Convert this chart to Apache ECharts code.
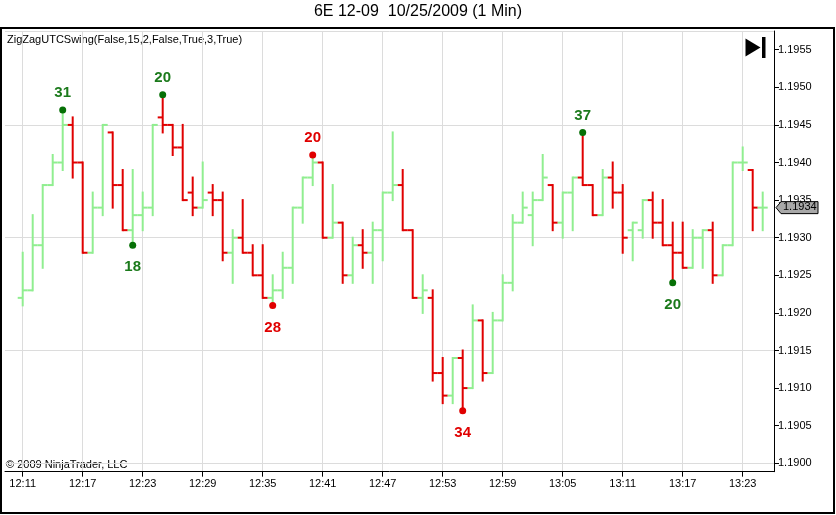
<!DOCTYPE html>
<html>
<head>
<meta charset="utf-8">
<title>6E 12-09 10/25/2009 (1 Min)</title>
<script src="https://cdn.jsdelivr.net/npm/echarts@6.0.0/dist/echarts.min.js"></script>
<style>
    html, body { margin: 0; padding: 0; background: #fff; }
    #main { width: 836px; height: 515px; }
</style>
</head>
<body>
<div id="main"></div>
<script>
// 1 minute bars, 12:11 - 13:25
const times = [
    '12:11', '12:12', '12:13', '12:14', '12:15', '12:16', '12:17', '12:18', '12:19', '12:20',
    '12:21', '12:22', '12:23', '12:24', '12:25', '12:26', '12:27', '12:28', '12:29', '12:30',
    '12:31', '12:32', '12:33', '12:34', '12:35', '12:36', '12:37', '12:38', '12:39', '12:40',
    '12:41', '12:42', '12:43', '12:44', '12:45', '12:46', '12:47', '12:48', '12:49', '12:50',
    '12:51', '12:52', '12:53', '12:54', '12:55', '12:56', '12:57', '12:58', '12:59', '13:00',
    '13:01', '13:02', '13:03', '13:04', '13:05', '13:06', '13:07', '13:08', '13:09', '13:10',
    '13:11', '13:12', '13:13', '13:14', '13:15', '13:16', '13:17', '13:18', '13:19', '13:20',
    '13:21', '13:22', '13:23', '13:24', '13:25'
];

const opens = [
    1.1922, 1.1923, 1.1929, 1.1937, 1.1940, 1.1945, 1.1940, 1.1928, 1.1934, 1.1944,
    1.1937, 1.1931, 1.1933, 1.1934, 1.1946, 1.1945, 1.1942, 1.1936, 1.1934, 1.1936,
    1.1935, 1.1928, 1.1930, 1.1928, 1.1925, 1.1922, 1.1923, 1.1926, 1.1934, 1.1938,
    1.1940, 1.1930, 1.1932, 1.1925, 1.1929, 1.1928, 1.1931, 1.1936, 1.1937, 1.1931,
    1.1922, 1.1922, 1.1912, 1.1909, 1.1914, 1.1910, 1.1919, 1.1912, 1.1919, 1.1924,
    1.1932, 1.1933, 1.1935, 1.1937, 1.1932, 1.1936, 1.1938, 1.1937, 1.1933, 1.1938,
    1.1936, 1.1931, 1.1931, 1.1935, 1.1932, 1.1929, 1.1928, 1.1926, 1.1930, 1.1931,
    1.1925, 1.1929, 1.1940, 1.1939, 1.1934
];
const highs = [
    1.1928, 1.1933, 1.1937, 1.1941, 1.1947, 1.1946, 1.1940, 1.1936, 1.1945, 1.1944,
    1.1939, 1.1939, 1.1936, 1.1945, 1.1949, 1.1945, 1.1945, 1.1938, 1.1940, 1.1937,
    1.1936, 1.1931, 1.1935, 1.1929, 1.1929, 1.1925, 1.1928, 1.1934, 1.1938, 1.1941,
    1.1940, 1.1937, 1.1932, 1.1930, 1.1931, 1.1932, 1.1936, 1.1944, 1.1939, 1.1931,
    1.1925, 1.1923, 1.1914, 1.1914, 1.1915, 1.1921, 1.1919, 1.1920, 1.1925, 1.1933,
    1.1936, 1.1936, 1.1941, 1.1937, 1.1936, 1.1938, 1.1944, 1.1937, 1.1939, 1.1940,
    1.1937, 1.1932, 1.1935, 1.1936, 1.1935, 1.1932, 1.1932, 1.1931, 1.1931, 1.1932,
    1.1929, 1.1940, 1.1942, 1.1939, 1.1936
];
const lows = [
    1.1921, 1.1923, 1.1926, 1.1937, 1.1939, 1.1938, 1.1928, 1.1928, 1.1933, 1.1934,
    1.1931, 1.1929, 1.1931, 1.1933, 1.1944, 1.1941, 1.1935, 1.1933, 1.1934, 1.1933,
    1.1927, 1.1924, 1.1928, 1.1925, 1.1922, 1.1921, 1.1922, 1.1924, 1.1932, 1.1937,
    1.1930, 1.1930, 1.1924, 1.1924, 1.1926, 1.1924, 1.1927, 1.1935, 1.1931, 1.1922,
    1.1920, 1.1911, 1.1908, 1.1908, 1.1907, 1.1910, 1.1911, 1.1912, 1.1919, 1.1923,
    1.1932, 1.1929, 1.1935, 1.1931, 1.1930, 1.1931, 1.1937, 1.1933, 1.1933, 1.1934,
    1.1928, 1.1927, 1.1930, 1.1930, 1.1929, 1.1924, 1.1926, 1.1926, 1.1926, 1.1924,
    1.1925, 1.1929, 1.1939, 1.1931, 1.1931
];
const closes = [
    1.1923, 1.1929, 1.1937, 1.1940, 1.1945, 1.1940, 1.1928, 1.1934, 1.1945, 1.1937,
    1.1931, 1.1933, 1.1934, 1.1945, 1.1945, 1.1942, 1.1935, 1.1934, 1.1935, 1.1935,
    1.1928, 1.1930, 1.1928, 1.1925, 1.1922, 1.1923, 1.1926, 1.1934, 1.1938, 1.1940,
    1.1930, 1.1932, 1.1925, 1.1929, 1.1928, 1.1931, 1.1936, 1.1937, 1.1931, 1.1922,
    1.1923, 1.1912, 1.1909, 1.1914, 1.1910, 1.1919, 1.1912, 1.1919, 1.1924, 1.1932,
    1.1934, 1.1935, 1.1938, 1.1932, 1.1936, 1.1938, 1.1937, 1.1933, 1.1938, 1.1936,
    1.1930, 1.1932, 1.1935, 1.1932, 1.1929, 1.1928, 1.1926, 1.1930, 1.1931, 1.1925,
    1.1929, 1.1940, 1.1940, 1.1934, 1.1934
];

// zigzag swing points: bar index, swing count, high/low, trend colour
const swingBars = [4, 11, 14, 25, 29, 44, 56, 65];
const swingCounts = ['31', '18', '20', '28', '20', '34', '37', '20'];
const swingSides = ['high', 'low', 'high', 'low', 'high', 'low', 'high', 'low'];
const swingTrend = ['up', 'up', 'up', 'down', 'down', 'down', 'up', 'up'];

const upColor = '#90ee90';
const downColor = '#e00000';
const fontFamily = 'Arial, "Liberation Sans", sans-serif';

const chart = echarts.init(document.getElementById('main'), null, { renderer: 'canvas' });

function renderBar(params, api) {
    const i = api.value(0);
    const o = api.value(1);
    const c = api.value(4);
    const top = api.coord([i, api.value(2)]);
    const bot = api.coord([i, api.value(3)]);
    const po = api.coord([i, o]);
    const pc = api.coord([i, c]);
    const half = api.size([1, 0])[0] / 2;
    const color = c >= o ? upColor : downColor;
    return {
        type: 'group',
        children: [
            { type: 'line', shape: { x1: top[0], y1: top[1] - 1, x2: bot[0], y2: bot[1] + 1 }, style: { stroke: color, lineWidth: 2 } },
            { type: 'line', shape: { x1: po[0] - half, y1: po[1], x2: po[0], y2: po[1] }, style: { stroke: color, lineWidth: 2 } },
            { type: 'line', shape: { x1: pc[0], y1: pc[1], x2: pc[0] + half, y2: pc[1] }, style: { stroke: color, lineWidth: 2 } }
        ]
    };
}

const barData = times.map((t, i) => [i, opens[i], highs[i], lows[i], closes[i]]);

const swingData = swingBars.map((b, k) => {
    const isHigh = swingSides[k] === 'high';
    const up = swingTrend[k] === 'up';
    return {
        value: [b, isHigh ? highs[b] : lows[b]],
        itemStyle: { color: up ? '#067006' : '#e00000', opacity: 1 },
        label: {
            show: true,
            formatter: swingCounts[k],
            position: isHigh ? 'top' : 'bottom',
            distance: isHigh ? 6 : 11,
            color: up ? '#1b7a1b' : '#e00000',
            fontSize: 15,
            fontWeight: 'bold',
            fontFamily: fontFamily
        }
    };
});

const option = {
    animation: false,
    backgroundColor: '#ffffff',
    textStyle: { fontFamily: fontFamily },
    grid: { left: 5, right: 62, top: 31, bottom: 43.3 },
    xAxis: {
        type: 'value',
        min: -1.77,
        max: 75.13,
        minInterval: 6,
        maxInterval: 6,
        axisLine: { onZero: false, lineStyle: { color: '#000', width: 1 } },
        axisTick: { length: 5, lineStyle: { color: '#000' } },
        axisLabel: {
            color: '#000',
            fontSize: 11,
            margin: 7,
            showMinLabel: false,
            showMaxLabel: false,
            formatter: function(v) { return times[v] || ''; }
        },
        splitLine: { show: true, showMinLine: false, showMaxLine: false, lineStyle: { color: '#dcdcdc' } }
    },
    yAxis: {
        type: 'value',
        position: 'right',
        min: 1.189888,
        max: 1.195749,
        minInterval: 0.0005,
        maxInterval: 0.0005,
        axisLine: { show: true, onZero: false, lineStyle: { color: '#000' } },
        axisTick: { show: true, length: 5, lineStyle: { color: '#000' } },
        axisLabel: {
            color: '#000',
            fontSize: 11,
            margin: 4,
            showMinLabel: false,
            showMaxLabel: false,
            formatter: function(v) { return v.toFixed(4); }
        },
        splitLine: { show: true, lineStyle: { color: ['rgba(0,0,0,0)', '#dcdcdc', 'rgba(0,0,0,0)'] } }
    },
    series: [{
            name: 'bars',
            type: 'custom',
            renderItem: renderBar,
            encode: { x: 0, y: [1, 2, 3, 4] },
            data: barData,
            z: 2
        },
        {
            name: 'swings',
            type: 'scatter',
            symbol: 'circle',
            symbolSize: 7,
            itemStyle: { opacity: 1 },
            data: swingData,
            z: 3
        }
    ],
    graphic: [
        { id: 'title', type: 'text', left: 'center', top: 4, style: { text: '6E 12-09  10/25/2009 (1 Min)', font: '16px ' + fontFamily, fill: '#000' } },
        { id: 'frame', type: 'rect', shape: { x: 1, y: 28, width: 833, height: 485 }, style: { fill: 'none', stroke: '#000', lineWidth: 2 }, z: 10 },
        { id: 'indicator', type: 'text', x: 7, y: 34, style: { text: 'ZigZagUTCSwing(False,15,2,False,True,3,True)', font: '11px ' + fontFamily, fill: '#000' } },
        { id: 'copyright', type: 'text', x: 6, y: 459, style: { text: '\u00a9 2009 NinjaTrader, LLC', font: '11px ' + fontFamily, fill: '#000' } },
        { id: 'playTri', type: 'polygon', shape: { points: [[745.5, 38.5], [760.5, 47.5], [745.5, 56.5]] }, style: { fill: '#000' } },
        { id: 'playBar', type: 'rect', shape: { x: 762, y: 37, width: 3.5, height: 21 }, style: { fill: '#000' } }
    ]
};

chart.setOption(option);

// last price marker on the price axis
const lastClose = closes[closes.length - 1];
const tagY = chart.convertToPixel({ yAxisIndex: 0 }, lastClose);
chart.setOption({
    graphic: [
        { id: 'tagBox', type: 'polygon', shape: { points: [[776, tagY], [781, tagY - 6], [818, tagY - 6], [818, tagY + 6], [781, tagY + 6]] }, style: { fill: '#a8a8a8', stroke: '#000', lineWidth: 1 }, z: 20 },
        { id: 'tagText', type: 'text', x: 783, y: tagY - 6, style: { text: lastClose.toFixed(4), font: '11px ' + fontFamily, fill: '#000' }, z: 21 }
    ]
});
</script>
</body>
</html>
